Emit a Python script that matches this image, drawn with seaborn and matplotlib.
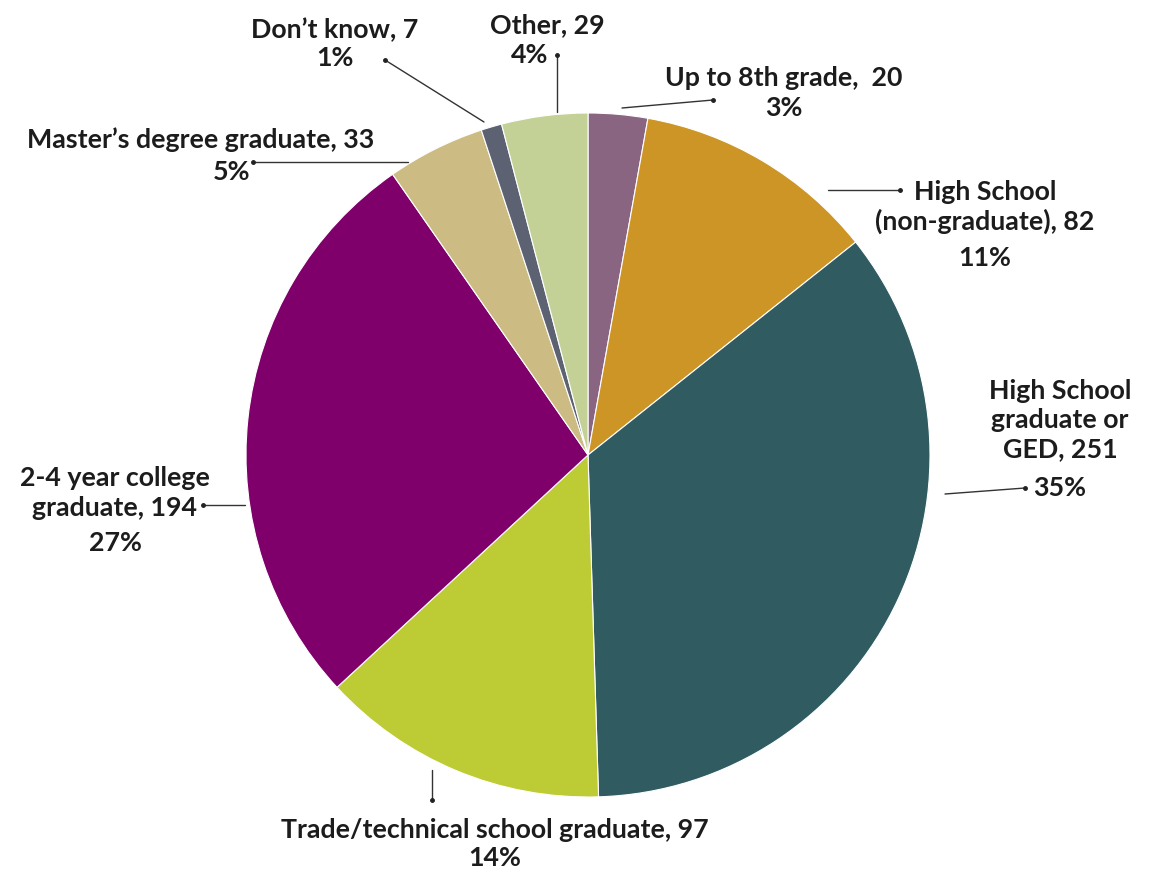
import matplotlib
matplotlib.use("Agg")
import matplotlib.pyplot as plt
import seaborn as sns

# Education level of respondents
categories = [
    "Up to 8th grade,  20",
    "High School\n(non-graduate), 82",
    "High School\ngraduate or\nGED, 251",
    "Trade/technical school graduate, 97",
    "2-4 year college\ngraduate, 194",
    "Master\u2019s degree graduate, 33",
    "Don\u2019t know, 7",
    "Other, 29",
]
counts = [20, 82, 251, 97, 194, 33, 7, 29]
pct_labels = ["3%", "11%", "35%", "14%", "27%", "5%", "1%", "4%"]
colors = ["#8A6582", "#CC9525", "#2F5B61", "#BDCB35",
          "#7F006A", "#CCBC84", "#5C6272", "#C4D196"]

sns.set_theme(style="white")
plt.rcParams["font.family"] = ["Lato", "DejaVu Sans"]

W, H = 1161, 874
fig = plt.figure(figsize=(W / 100, H / 100), dpi=100)
ax = fig.add_axes([0, 0, 1, 1])

cx, cy, r = 588, 455, 342
# y axis runs downward, so a start of -90 with counterclock=True
# begins at 12 o'clock and proceeds clockwise on screen
wedges, _ = ax.pie(
    counts, colors=sns.color_palette(colors), startangle=-90, counterclock=True,
    center=(cx, cy), radius=r, frame=True,
    wedgeprops=dict(edgecolor="white", linewidth=0.8),
)
ax.set_xlim(0, W)
ax.set_ylim(H, 0)
ax.set_aspect("equal")
ax.axis("off")

# label text positions (center x, first-line y) and leader lines (start -> dotted end)
label_pos = [(784, 78), (985, 190), (1060, 386), (495, 830),
             (115, 476), (201, 140), (335, 30), (547, 25)]
pct_pos = [(784, 108), (985, 258), (1060, 488), (495, 858),
           (115, 543), (232, 172), (335, 58), (530, 55)]
leaders = [((622, 108), (713, 100)), ((828, 190), (900, 190)),
           ((945, 494), (1025, 488)), ((432, 770), (432, 800)),
           ((245, 505), (203, 505)), ((408, 162), (253, 162)),
           ((484, 122), (385, 60)), ((557, 112), (557, 55))]

line_h = 34
txt = dict(fontsize=19.3, fontweight="bold", color="#1c1c1c",
           ha="center", va="center", linespacing=1.26)
for name, pct, (lx, ly), (px, py), (p0, p1) in zip(
        categories, pct_labels, label_pos, pct_pos, leaders):
    nlines = name.count("\n")
    ax.text(lx, ly + nlines * line_h / 2, name, **txt)
    ax.text(px, py, pct, **txt)
    ax.plot([p0[0], p1[0]], [p0[1], p1[1]], color="#333333", lw=1.0)
    ax.plot([p1[0]], [p1[1]], marker="o", ms=2.5, color="#222222")

fig.savefig("out.png", dpi=100)
